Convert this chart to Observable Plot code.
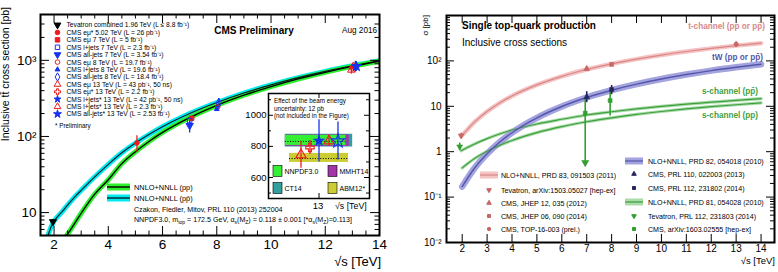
<!DOCTYPE html>
<html>
<head>
<meta charset="utf-8">
<script src="https://cdn.jsdelivr.net/npm/d3@7"></script>
<script src="https://cdn.jsdelivr.net/npm/@observablehq/plot@0.6"></script>
<style>
  html, body { margin: 0; padding: 0; background: #fff; }
  #figure { position: relative; width: 778px; height: 272px; overflow: hidden; }
  #figure svg { position: absolute; top: 0; }
</style>
</head>
<body>
<div id="figure"></div>
<script>
const FONT = '"Liberation Sans", Arial, Helvetica, sans-serif';

// ---------- top-quark pair production: NNLO+NNLL predictions [pb] ----------
const ttEnergy = [1.7, 1.8, 1.96, 2.1, 2.3, 2.42, 2.6, 2.8, 3, 3.5, 4, 4.5, 5, 5.5, 6, 7, 8, 9, 10, 11, 12, 13, 14];
const ttPP     = [1.1, 1.45, 2.05, 2.7, 3.9, 4.7, 5.9, 7.6, 9.8, 17.5, 27, 44, 63, 86, 113, 177, 256, 348, 452, 569, 696, 832, 975];
const ttPPbar  = [4.1, 5.3, 7.35, 8.6, 10.3, 11.6, 13.8, 16.6, 19.6, 29.5, 43, 61, 82, 106, 134, 200, 279, 372, 475, 592, 717, 849, 990];

// ---------- top-quark pair measurements [pb] ----------
const ttMeasLabels = [
  "Tevatron combined 1.96 TeV (L ≤ 8.8 fb⁻¹)",
  "CMS eμ* 5.02 TeV (L = 26 pb⁻¹)",
  "CMS eμ 7 TeV (L = 5 fb⁻¹)",
  "CMS l+jets 7 TeV (L = 2.3 fb⁻¹)",
  "CMS all-jets 7 TeV (L = 3.54 fb⁻¹)",
  "CMS eμ 8 TeV (L = 19.7 fb⁻¹)",
  "CMS l+jets 8 TeV (L = 19.6 fb⁻¹)",
  "CMS all-jets 8 TeV (L = 18.4 fb⁻¹)",
  "CMS eμ 13 TeV (L = 43 pb⁻¹, 50 ns)",
  "CMS eμ* 13 TeV (L = 2.2 fb⁻¹)",
  "CMS l+jets* 13 TeV (L = 42 pb⁻¹, 50 ns)",
  "CMS l+jets* 13 TeV (L = 2.3 fb⁻¹)",
  "CMS all-jets* 13 TeV (L = 2.53 fb⁻¹)"
];
const ttMeasEnergy = [1.96, 5.02, 7, 7, 7, 8, 8, 8, 13, 13, 13, 13, 13];
const ttMeasValue  = [7.60, 82, 173.6, 161.7, 139, 244.9, 228.5, 275.6, 746, 793, 836, 835, 834];
const ttMeasError  = [0.41, 20, 6.5, 14, 28, 9.1, 15.7, 38.9, 87, 45, 136, 33, 122];

// ---------- PDF sets at 13 TeV [pb] (inset) ----------
const pdfNames   = ["NNPDF3.0", "MMHT14", "CT14", "ABM12*"];
const pdfCentral = [832, 832, 832, 722];
const pdfLow     = [806, 800, 796, 697];
const pdfHigh    = [871, 874, 878, 755];

// ---------- single top: NLO+NNLL predictions [pb] ----------
const stEnergy  = [1.96, 2, 2.5, 3, 3.5, 4, 5, 6, 7, 8, 9, 10, 11, 12, 13, 14];
const stTChan   = [2.25, 2.35, 4.54, 7.7, 11.8, 16.9, 29.6, 45.7, 64.6, 86, 109.4, 134.5, 161, 188.6, 217, 246];
const stTW      = [null, 0.17, 0.437, 0.90, 1.62, 2.62, 5.58, 9.91, 15.6, 22.6, 30.8, 40.0, 50.1, 61.0, 72.4, 84.4];
const stSPP     = [null, 0.44, 0.707, 1.02, 1.38, 1.77, 2.63, 3.57, 4.56, 5.58, 6.63, 7.68, 8.74, 9.79, 10.83, 11.86];
const stSPPbar  = [1.05, 1.08, 1.48, 1.94, 2.45, 3.0, 4.08, 5.18, 6.44, 7.59, 8.8, 9.98, 11.2, 12.3, 13.5, 14.7];

// ---------- single top measurements [pb] ----------
const tMeasEnergy = [1.96, 7, 8, 13];
const tMeasValue  = [2.25, 67.2, 83.6, 232];
const tMeasError  = [0.29, 6.1, 7.7, 31];
const twMeasEnergy = [7, 8];
const twMeasValue  = [16.0, 23.4];
const twMeasErrLo  = [4.0, 5.4];
const twMeasErrHi  = [5.0, 5.4];
const sMeasEnergy = [1.96, 7, 8];
const sMeasValue  = [1.29, 7.1, 13.4];
const sMeasErrLo  = [0.24, 8.1, 7.3];
const sMeasErrHi  = [0.26, 8.1, 7.3];
const sLimitArrowTip = 0.52;

const stLegend1 = ["NLO+NNLL, PRD 83, 091503 (2011)", "Tevatron, arXiv:1503.05027 [hep-ex]", "CMS, JHEP 12, 035 (2012)", "CMS, JHEP 06, 090 (2014)", "CMS, TOP-16-003 (prel.)"];
const stLegend2 = ["NLO+NNLL, PRD 82, 054018 (2010)", "CMS, PRL 110, 022003 (2013)", "CMS, PRL 112, 231802 (2014)", "NLO+NNLL, PRD 81, 054028 (2010)", "Tevatron, PRL 112, 231803 (2014)", "CMS, arXiv:1603.02555 [hep-ex]"];

// ---------- helpers ----------
const triDown = {
  draw(ctx, size) {
    const y = -Math.sqrt(size / (Math.sqrt(3) * 3));
    ctx.moveTo(0, -y * 2);
    ctx.lineTo(-Math.sqrt(3) * y, y);
    ctx.lineTo(Math.sqrt(3) * y, y);
    ctx.closePath();
  }
};
const SUP = {"-": "⁻", "0": "⁰", "1": "¹", "2": "²", "3": "³", "4": "⁴", "5": "⁵", "6": "⁶", "7": "⁷", "8": "⁸", "9": "⁹"};
function logLabel(d) {
  const e = Math.round(Math.log10(d));
  if (e === 0) return "1";
  if (e === 1) return "10";
  return "10" + String(e).split("").map(c => SUP[c]).join("");
}
function minorLog(lo, hi) {
  const out = [];
  for (let e = Math.floor(Math.log10(lo)); e <= Math.ceil(Math.log10(hi)); e++)
    for (let k = 2; k <= 9; k++) { const v = k * 10 ** e; if (v >= lo && v <= hi) out.push(v); }
  return out;
}
// inward ticks on all four sides of the frame
function frameTicks({xMajor = [], xMinor = [], yMajor = [], yMinor = [], fw, fh, maj = 8, min = 4, w = 1}) {
  const o = {stroke: "black", strokeWidth: w};
  const marks = [];
  for (const [vals, len] of [[xMajor, maj], [xMinor, min]]) {
    marks.push(Plot.ruleX(vals, {...o, insetTop: fh - len}));
    marks.push(Plot.ruleX(vals, {...o, insetBottom: fh - len}));
  }
  for (const [vals, len] of [[yMajor, maj], [yMinor, min]]) {
    marks.push(Plot.ruleY(vals, {...o, insetRight: fw - len}));
    marks.push(Plot.ruleY(vals, {...o, insetLeft: fw - len}));
  }
  return marks;
}
function text(svg, x, y, html, o = {}) {
  const t = d3.select(svg).append("text")
    .attr("x", x).attr("y", y)
    .attr("font-family", FONT)
    .attr("font-size", o.size || 7)
    .attr("fill", o.color || "#000")
    .attr("text-anchor", o.anchor || "start");
  if (o.weight) t.attr("font-weight", o.weight);
  if (o.rotate) t.attr("transform", `rotate(${o.rotate},${x},${y})`);
  t.html(html);
  return t;
}
const sub = (s, fs = 5) => `<tspan baseline-shift="-1.6" font-size="${fs}">${s}</tspan>`;
function marker(svg, x, y, s, r) {
  d3.select(svg).append("path")
    .attr("d", d3.symbol(s.symbol, Math.PI * (r ?? s.r) ** 2)())
    .attr("transform", `translate(${x},${y})`)
    .attr("fill", s.fill ? s.color : "none")
    .attr("stroke", s.color).attr("stroke-width", 1);
}
function swatch(svg, x, y, w, h, band, line, lw = 1.3) {
  const g = d3.select(svg);
  g.append("rect").attr("x", x).attr("y", y - h / 2).attr("width", w).attr("height", h).attr("fill", band);
  g.append("line").attr("x1", x).attr("x2", x + w).attr("y1", y).attr("y2", y).attr("stroke", line).attr("stroke-width", lw);
}

const fig = document.getElementById("figure");

// ===================== left panel: inclusive ttbar cross section =====================
const RED = "#ee1c1c", BLUE = "#1733ee";
const ttStyle = [
  {color: "#000", symbol: triDown, fill: true, r: 2.6, dx: 0},
  {color: RED, symbol: d3.symbolCircle, fill: true, r: 2.3, dx: 1},
  {color: RED, symbol: d3.symbolSquare, fill: true, r: 2.5, dx: 2},
  {color: BLUE, symbol: d3.symbolSquare, fill: false, r: 2.5, dx: 0},
  {color: BLUE, symbol: triDown, fill: true, r: 2.7, dx: 0},
  {color: RED, symbol: d3.symbolCircle, fill: false, r: 2.3, dx: 1},
  {color: BLUE, symbol: d3.symbolTriangle, fill: true, r: 1.8, dx: 0},
  {color: BLUE, symbol: d3.symbolDiamond, fill: false, r: 2.8, dx: 2},
  {color: RED, symbol: d3.symbolTriangle, fill: false, r: 2.8, dx: -1},
  {color: RED, symbol: d3.symbolCross, fill: false, r: 2.6, dx: 0},
  {color: BLUE, symbol: d3.symbolStar, fill: true, r: 2.2, dx: 3},
  {color: RED, symbol: d3.symbolTriangle, fill: false, r: 2.8, dx: 1},
  {color: BLUE, symbol: d3.symbolStar, fill: true, r: 3.2, dx: 4}
];
const insetDx = {8: -18, 9: -9, 10: 0, 11: 10, 12: 19};
const insetOpenStar = 12;

const LP = {w: 390, h: 272, ml: 40, mr: 11, mt: 14, mb: 37};
const lfw = LP.w - LP.ml - LP.mr, lfh = LP.h - LP.mt - LP.mb;
const ttRows = ttEnergy.map((e, i) => ({e, pp: ttPP[i], ppbar: ttPPbar[i]}));
const ttMeas = ttMeasEnergy.map((e, i) => ({i, e, v: ttMeasValue[i], lo: ttMeasValue[i] - ttMeasError[i], hi: ttMeasValue[i] + ttMeasError[i]}));

const left = Plot.plot({
  width: LP.w, height: LP.h,
  marginLeft: LP.ml, marginRight: LP.mr, marginTop: LP.mt, marginBottom: LP.mb,
  style: {fontFamily: FONT, fontSize: "13.5px", background: "transparent", color: "black"},
  x: {domain: [1.5, 14], ticks: [2, 4, 6, 8, 10, 12, 14], tickSize: 0, tickPadding: 4, label: null},
  y: {type: "log", domain: [5, 4000], ticks: [10, 100, 1000], tickFormat: logLabel, tickSize: 0, tickPadding: 4, label: null},
  marks: [
    Plot.line(ttRows, {x: "e", y: "ppbar", stroke: "#00eaf0", strokeWidth: 5, curve: "monotone-x", clip: true}),
    Plot.line(ttRows, {x: "e", y: "pp", stroke: "#2cf02c", strokeWidth: 5, curve: "monotone-x", clip: true}),
    Plot.line(ttRows, {x: "e", y: "ppbar", stroke: "#0b1f2a", strokeWidth: 1.2, curve: "monotone-x", clip: true}),
    Plot.line(ttRows, {x: "e", y: "pp", stroke: "#000", strokeWidth: 1.3, curve: "monotone-x", clip: true}),
    ...frameTicks({
      xMajor: [2, 4, 6, 8, 10, 12, 14],
      xMinor: d3.range(1.5, 14.01, 0.5).filter(v => v % 2 !== 0),
      yMajor: [10, 100, 1000], yMinor: minorLog(5, 4000), fw: lfw, fh: lfh, maj: 9, min: 4.5
    }),
    ...ttMeas.map(d => Plot.ruleX([d], {x: "e", y1: "lo", y2: "hi", stroke: ttStyle[d.i].color, strokeWidth: 1.3, dx: ttStyle[d.i].dx})),
    ...ttMeas.map(d => {
      const s = ttStyle[d.i];
      return Plot.dot([d], {x: "e", y: "v", symbol: s.symbol, r: s.r, fill: s.fill ? s.color : "none", stroke: s.color, strokeWidth: 1, dx: s.dx});
    }),
    Plot.frame({stroke: "black", strokeWidth: 2})
  ]
});
left.style.left = "0px";
fig.appendChild(left);

// axis titles and annotations
text(left, 9, 7, "Inclusive tt̄ cross section [pb]", {size: 10.5, anchor: "end", rotate: -90});
text(left, 381, 266, "√s [TeV]", {size: 13, anchor: "end"});
text(left, 254, 34, "CMS Preliminary", {size: 10, weight: "bold", anchor: "middle"});
text(left, 342, 32.5, "Aug 2016", {size: 8.2});
ttMeasLabels.forEach((lab, i) => {
  const y = 25 + i * 7.42;
  marker(left, 57.5, y, ttStyle[i], Math.min(ttStyle[i].r, 2.5));
  text(left, 66.5, y + 2.4, lab, {size: 6.7});
});
text(left, 55, 128, "* Preliminary", {size: 6.3});
swatch(left, 107, 187, 23, 7, "#2cf02c", "#000", 1.4);
text(left, 134, 189.6, "NNLO+NNLL (pp)", {size: 7.4});
swatch(left, 107, 198, 23, 7, "#00eaf0", "#0b1f2a", 1.4);
text(left, 134, 200.6, "NNLO+NNLL (pp̄)", {size: 7.4});
text(left, 134, 211.8, "Czakon, Fiedler, Mitov, PRL 110 (2013) 252004", {size: 7.1});
text(left, 134, 222, `NNPDF3.0, m${sub("top")} = 172.5 GeV, α${sub("s")}(M${sub("Z")}) = 0.118 ± 0.001 [*α${sub("s")}(M${sub("Z")})=0.113]`, {size: 7.1});

// ---------- inset: 13 TeV detail with PDF sets ----------
const IP = {w: 135, h: 125, ml: 28, mr: 6, mt: 5, mb: 15};
const ifw = IP.w - IP.ml - IP.mr, ifh = IP.h - IP.mt - IP.mb;
const pdfColors = ["#33f033", "#a236a8", "#2f9fa0", "#cccc33"];
const pdfSpan = [[12.6, 13.32], [12.6, 13.36], [12.6, 13.4], [12.65, 13.35]];
const pdfRows = pdfNames.map((n, i) => ({n, c: pdfCentral[i], lo: pdfLow[i], hi: pdfHigh[i], x1: pdfSpan[i][0], x2: pdfSpan[i][1], color: pdfColors[i]}));
const pdfDrawOrder = [2, 1, 0, 3];
const insetMeas = ttMeas.filter(d => d.e === 13);

const inset = Plot.plot({
  width: IP.w, height: IP.h,
  marginLeft: IP.ml, marginRight: IP.mr, marginTop: IP.mt, marginBottom: IP.mb,
  style: {fontFamily: FONT, fontSize: "9.5px", background: "transparent", color: "black"},
  x: {domain: [12.4, 13.6], axis: null},
  y: {domain: [465, 1140], ticks: [600, 800, 1000], tickFormat: d => String(d), tickSize: 0, tickPadding: 2, label: null},
  marks: [
    Plot.frame({fill: "white"}),
    Plot.rect(pdfDrawOrder.map(i => pdfRows[i]), {x1: "x1", x2: "x2", y1: "lo", y2: "hi", fill: "color"}),
    Plot.ruleY([pdfRows[0], pdfRows[3]], {y: "c", x1: "x1", x2: "x2", stroke: "#000", strokeWidth: 1, strokeDasharray: "1,1.6"}),
    ...frameTicks({yMajor: [600, 800, 1000], yMinor: [500, 700, 900, 1100], xMajor: [13], fw: ifw, fh: ifh, maj: 5, min: 3}),
    ...insetMeas.map(d => Plot.ruleX([d], {x: "e", y1: "lo", y2: "hi", stroke: ttStyle[d.i].color, strokeWidth: 1.3, dx: insetDx[d.i]})),
    ...insetMeas.map(d => {
      const s = ttStyle[d.i];
      const open = d.i === insetOpenStar;
      return Plot.dot([d], {x: "e", y: "v", symbol: s.symbol, r: s.r * 1.35, fill: s.fill && !open ? s.color : "none", stroke: s.color, strokeWidth: 1.1, dx: insetDx[d.i]});
    }),
    Plot.frame({stroke: "black", strokeWidth: 1.5})
  ]
});
inset.style.left = "240px";
inset.style.top = "88px";
fig.appendChild(inset);
text(inset, 34, 15, "Effect of the beam energy", {size: 6.3});
text(inset, 34, 22.5, "uncertainty: 12 pb", {size: 6.3});
text(inset, 34, 30, "(not included in the Figure)", {size: 6.3});
[[0, 33, 83], [1, 88, 83], [2, 33, 100], [3, 88, 100]].forEach(([i, x, y]) => {
  d3.select(inset).append("rect").attr("x", x).attr("y", y - 5.5).attr("width", 9).attr("height", 11)
    .attr("fill", pdfColors[i]).attr("stroke", "#000").attr("stroke-width", 0.6);
  text(inset, x + 11.5, y + 2.5, pdfNames[i], {size: 7});
});
text(inset, 78, 121, "13", {size: 9.5, anchor: "middle"});
text(inset, 95, 121, "√s [TeV]", {size: 8.8});

// ===================== right panel: single top-quark production =====================
const RP = {w: 388, h: 272, ml: 56, mr: 4, mt: 15, mb: 30};
const rfw = RP.w - RP.ml - RP.mr, rfh = RP.h - RP.mt - RP.mb;
const C = {
  tLine: "#d98787", tBand: "#f5c3c3", tMark: "#c96666",
  wLine: "#5656a8", wBand: "#a3a3df", wMark: "#26265e",
  sLine: "#3f9f3f", sBand: "#a9dca9", sMark: "#31a031"
};
const stRows = stEnergy.map((e, i) => ({e, t: stTChan[i], tw: stTW[i], sp: stSPP[i], sa: stSPPbar[i]}));
const tMeas = tMeasEnergy.map((e, i) => ({e, v: tMeasValue[i], lo: tMeasValue[i] - tMeasError[i], hi: tMeasValue[i] + tMeasError[i], sym: [triDown, d3.symbolTriangle, d3.symbolSquare, d3.symbolCircle][i]}));
const twMeas = twMeasEnergy.map((e, i) => ({e, v: twMeasValue[i], lo: twMeasValue[i] - twMeasErrLo[i], hi: twMeasValue[i] + twMeasErrHi[i], sym: [d3.symbolTriangle, d3.symbolSquare][i]}));
const sMeas = sMeasEnergy.map((e, i) => {
  const lo = sMeasValue[i] - sMeasErrLo[i];
  return {e, v: sMeasValue[i], lo: lo > 0 ? lo : sLimitArrowTip, hi: sMeasValue[i] + sMeasErrHi[i], limit: lo <= 0, sym: [triDown, d3.symbolSquare, d3.symbolSquare][i]};
});
const line = (y, stroke, w) => Plot.line(stRows, {x: "e", y, stroke, strokeWidth: w, curve: "monotone-x", clip: true});
const meas = (rows, color, dx = 0) => [
  Plot.ruleX(rows, {x: "e", y1: "lo", y2: "hi", stroke: color, strokeWidth: 1.6, dx}),
  ...rows.map(d => Plot.dot([d], {x: "e", y: "v", symbol: d.sym, r: 2.2, fill: color, stroke: color, strokeWidth: 0.6, dx}))
];

const right = Plot.plot({
  width: RP.w, height: RP.h,
  marginLeft: RP.ml, marginRight: RP.mr, marginTop: RP.mt, marginBottom: RP.mb,
  style: {fontFamily: FONT, fontSize: "10px", background: "transparent", color: "black"},
  x: {domain: [1.37, 14.54], ticks: d3.range(2, 15), tickSize: 0, tickPadding: 2, label: null},
  y: {type: "log", domain: [0.01, 1000], ticks: [0.01, 0.1, 1, 10, 100], tickFormat: logLabel, tickSize: 0, tickPadding: 5, label: null},
  marks: [
    line("sa", C.sBand, 3.2), line("sp", C.sBand, 3.2),
    line("t", C.tBand, 4.5),
    line("tw", C.wBand, 6.5),
    line("sa", C.sLine, 1.2), line("sp", C.sLine, 1.2),
    line("t", C.tLine, 1.2),
    line("tw", C.wLine, 1.4),
    ...frameTicks({
      xMajor: d3.range(2, 15), yMajor: [0.01, 0.1, 1, 10, 100, 1000], yMinor: minorLog(0.01, 1000),
      fw: rfw, fh: rfh, maj: 8, min: 4
    }),
    ...meas(tMeas, C.tMark),
    ...meas(sMeas, C.sMark, -1.5),
    Plot.dot(sMeas.filter(d => d.limit), {x: "e", y: "lo", symbol: triDown, r: 3, fill: C.sMark, dx: -1.5, dy: -2}),
    ...meas(twMeas, C.wMark),
    Plot.frame({stroke: "black", strokeWidth: 2})
  ]
});
right.style.left = "390px";
fig.appendChild(right);

text(right, 38, 15, "σ [pb]", {size: 8, anchor: "end", rotate: -90});
text(right, 385, 264, "√s [TeV]", {size: 9.5, anchor: "end"});
text(right, 72, 29, "Single top-quark production", {size: 10, weight: "bold"});
text(right, 72, 46, "Inclusive cross sections", {size: 10});
text(right, 375, 29, "t-channel (pp or pp̄)", {size: 8.2, weight: "bold", color: C.tLine, anchor: "end"});
text(right, 373, 60, "tW (pp or pp̄)", {size: 8.2, weight: "bold", color: C.wLine, anchor: "end"});
text(right, 368, 93.5, "s-channel (pp̄)", {size: 8.2, weight: "bold", color: C.sLine, anchor: "end"});
text(right, 368, 117.5, "s-channel (pp)", {size: 8.2, weight: "bold", color: C.sLine, anchor: "end"});

// legend, first column (t-channel)
swatch(right, 90, 175, 18, 7, C.tBand, C.tLine, 1.2);
text(right, 111, 177.5, stLegend1[0], {size: 7.1});
[[triDown, 190], [d3.symbolTriangle, 203], [d3.symbolSquare, 216], [d3.symbolCircle, 229]].forEach(([sym, y], k) => {
  marker(right, 99, y, {symbol: sym, color: C.tMark, fill: true}, 1.7);
  text(right, 111, y + 2.5, stLegend1[k + 1], {size: 7.1});
});
// legend, second column (tW and s-channel)
swatch(right, 235, 161, 18, 7, C.wBand, C.wLine, 1.2);
text(right, 258, 163.5, stLegend2[0], {size: 7.1});
marker(right, 244, 174, {symbol: d3.symbolTriangle, color: C.wMark, fill: true}, 1.7);
text(right, 258, 176.5, stLegend2[1], {size: 7.1});
marker(right, 244, 188, {symbol: d3.symbolSquare, color: C.wMark, fill: true}, 1.7);
text(right, 258, 190.5, stLegend2[2], {size: 7.1});
swatch(right, 235, 202, 18, 7, C.sBand, C.sLine, 1.2);
text(right, 258, 204.5, stLegend2[3], {size: 7.1});
marker(right, 244, 216, {symbol: triDown, color: C.sMark, fill: true}, 1.7);
text(right, 258, 218.5, stLegend2[4], {size: 7.1});
marker(right, 244, 229, {symbol: d3.symbolSquare, color: C.sMark, fill: true}, 1.7);
text(right, 258, 231.5, stLegend2[5], {size: 7.1});
</script>
</body>
</html>
